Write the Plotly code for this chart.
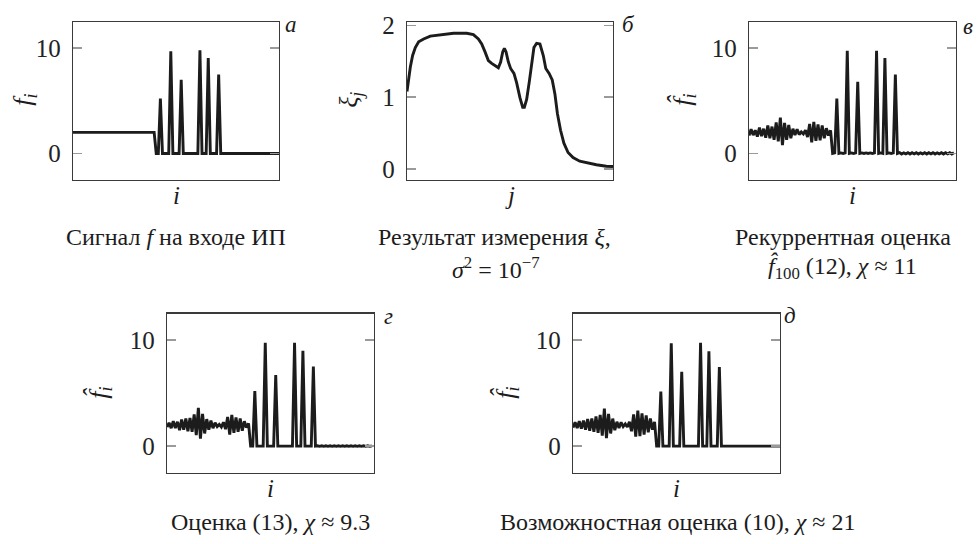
import plotly.graph_objects as go

W, H = 978, 544

# ---------------- data ----------------
i_idx = list(range(100))

f_input = [2, 2, 2, 2, 2, 2, 2, 2, 2, 2, 2, 2, 2, 2, 2, 2, 2, 2, 2, 2,
           2, 2, 2, 2, 2, 2, 2, 2, 2, 2, 2, 2, 2, 2, 2, 2, 2, 2, 2, 2,
           0, 0, 5.2, 0, 0, 0, 0, 9.7, 0, 0, 0, 0, 7.0, 0, 0, 0, 0, 0, 0, 0,
           0, 9.8, 0, 0, 0, 9.05, 0, 0, 0, 0, 7.5, 0, 0, 0, 0, 0, 0, 0, 0, 0,
           0, 0, 0, 0, 0, 0, 0, 0, 0, 0, 0, 0, 0, 0, 0, 0, 0, 0, 0, 0]

j_meas = [0, 0.8, 1.6, 2.7, 4.0, 5.6, 8.0, 11.2, 16.0, 22.4, 28.7, 31.9, 34.3, 35.9,
          37.5, 39.1, 40.7, 42.3, 43.9, 45.0, 46.0, 46.8, 47.6, 48.7, 49.8, 51.4,
          52.7, 54.3, 55.6, 56.4, 57.5, 58.8, 59.9, 61.0, 62.3, 63.9, 65.5, 66.7,
          68.3, 69.8, 71.1, 72.3, 73.8, 75.4, 77.4, 79.8, 83.0, 87.0, 91.0, 95.8, 99]
xi_meas = [1.08, 1.29, 1.42, 1.58, 1.69, 1.77, 1.81, 1.85, 1.87, 1.89, 1.89, 1.87,
           1.81, 1.74, 1.63, 1.51, 1.47, 1.44, 1.41, 1.49, 1.63, 1.68, 1.63, 1.49,
           1.40, 1.33, 1.20, 0.99, 0.86, 0.86, 0.97, 1.22, 1.49, 1.69, 1.75, 1.74,
           1.58, 1.40, 1.33, 1.24, 1.04, 0.77, 0.54, 0.36, 0.23, 0.16, 0.11, 0.08,
           0.06, 0.04, 0.036]

f_rec = [1.7, 2.3, 1.75, 2.2, 1.6, 2.45, 1.65, 2.35, 1.5, 2.65, 1.45, 2.55, 1.3, 2.95, 1.15, 3.4,
         0.8, 2.9, 1.3, 2.7, 1.45, 2.35, 1.75, 2.3, 1.8, 2.05, 1.85, 2.2, 1.55, 2.8, 1.05, 3.0,
         1.2, 2.75, 1.25, 2.65, 1.45, 2.4, 1.7, 2.2,
         0, 0.05, 5.2, 0, 0.05, 0, 0.05, 9.75, 0, 0.05, 0, 0.05, 6.8, 0, 0.05, 0, 0.05, 0,
         0.05, 0, 0.05, 9.75, 0, 0.05, 0, 9.05, 0, 0.05, 0, 0.05, 7.5, 0, 0.08, -0.05, 0.06,
         -0.04, 0.08, -0.05, 0.07, -0.04, 0.08, -0.05, 0.06, -0.04, 0.08, -0.05, 0.07, -0.04,
         0.08, -0.05, 0.06, -0.04, 0.08, -0.05, 0.07, -0.04, 0.08, -0.05, 0.06]

f_13 = [1.8, 2.2, 1.7, 2.35, 1.7, 2.3, 1.5, 2.5, 1.55, 2.6, 1.4, 2.65, 1.35, 3.0, 1.05, 3.6,
        0.7, 3.05, 1.2, 2.55, 1.55, 2.4, 1.7, 2.2, 1.85, 2.05, 1.8, 2.25, 1.6, 2.75, 1.1, 2.95,
        1.25, 2.7, 1.35, 2.6, 1.45, 2.35, 1.75, 2.15,
        0, 0, 5.2, 0, 0, 0, 0, 9.75, 0, 0, 0, 0, 6.7, 0, 0, 0, 0, 0, 0, 0,
        0, 9.75, 0, 0, 0, 9.0, 0, 0, 0, 0, 7.5, 0, 0.03, -0.02, 0.03, -0.02, 0.03, -0.02, 0.03, -0.02,
        0.03, -0.02, 0.03, -0.02, 0.03, -0.02, 0.03, -0.02, 0.03, -0.02, 0.03, -0.02, 0.03, -0.02,
        0.03, -0.02, 0.03, -0.02, 0.03]

f_10 = [1.75, 2.25, 1.7, 2.35, 1.65, 2.4, 1.55, 2.55, 1.45, 2.6, 1.35, 2.8, 1.25, 2.95, 1.0, 3.55,
        0.75, 3.05, 1.2, 2.6, 1.5, 2.3, 1.7, 2.25, 1.85, 2.1, 1.8, 2.3, 1.4, 3.0, 0.9, 3.35,
        0.95, 3.1, 1.1, 2.9, 1.3, 2.6, 1.55, 2.3,
        0, 0, 5.15, 0, 0, 0, 0, 9.7, 0, 0, 0, 0, 7.0, 0, 0, 0, 0, 0, 0, 0,
        0, 9.75, 0, 0, 0, 8.95, 0, 0, 0, 0, 7.45, 0, 0, 0, 0, 0, 0, 0, 0, 0,
        0, 0, 0, 0, 0, 0, 0, 0, 0, 0, 0, 0, 0, 0, 0, 0, 0, 0, 0, 0]

f_ticks = [0, 10]
xi_ticks = [0, 1, 2]

# ---------------- layout helpers ----------------
SERIF = "Liberation Serif, Times New Roman, Times, DejaVu Serif, serif"
LINE = dict(color="#1c1c1c", width=2.9)


def px_x(p):
    return p / W


def px_y(p):
    return 1 - p / H


# panel boxes in pixels: (left, right, top, bottom)
boxes = {
    "a": (73, 279, 12, 174),
    "b": (407, 613, 12, 174),
    "v": (749, 956, 12, 174),
    "g": (167, 374, 311, 474),
    "d": (573, 780, 311, 474),
}

fig = go.Figure()

panels = [
    ("a", i_idx, f_input, [-2.5, 12.5], f_ticks, [0, 99]),
    ("b", j_meas, xi_meas, [-0.15, 2.05], xi_ticks, [0, 99]),
    ("v", i_idx, f_rec, [-2.5, 12.5], f_ticks, [0, 99]),
    ("g", i_idx, f_13, [-2.5, 12.5], f_ticks, [0, 99]),
    ("d", i_idx, f_10, [-2.5, 12.5], f_ticks, [0, 99]),
]

layout_axes = {}
for n, (key, xs, ys, yr, yt, xr) in enumerate(panels, start=1):
    l, r, t, b = boxes[key]
    sfx = "" if n == 1 else str(n)
    fig.add_trace(go.Scatter(x=xs, y=ys, mode="lines", line=LINE,
                             xaxis="x" + sfx, yaxis="y" + sfx,
                             showlegend=False, hoverinfo="skip"))
    layout_axes["xaxis" + sfx] = dict(
        domain=[px_x(l), px_x(r)], range=xr, anchor="y" + sfx,
        showline=True, mirror=True, linecolor="#3a3a3a", linewidth=1.2,
        showticklabels=False, ticks="", showgrid=False, zeroline=False)
    layout_axes["yaxis" + sfx] = dict(
        domain=[px_y(b), px_y(t)], range=yr, anchor="x" + sfx,
        showline=True, mirror="ticks", linecolor="#3a3a3a", linewidth=1.2,
        ticks="inside", ticklen=9, tickwidth=1.4, tickcolor="#9a9a9a",
        tickvals=yt, ticktext=[str(v) for v in yt],
        tickfont=dict(family=SERIF, size=25, color="#222"),
        ticklabelstandoff=6,
        showgrid=False, zeroline=False)

fig.update_layout(**layout_axes)

ann = []


def text(x, y, s, size, angle=0, anchor="center"):
    ann.append(dict(x=px_x(x), y=px_y(y), xref="paper", yref="paper", text=s,
                    showarrow=False, textangle=angle, xanchor=anchor, yanchor="middle",
                    font=dict(family=SERIF, size=size, color="#1c1c1c")))


# y titles
text(24, 92, "<i>f<sub>i</sub></i>", 26, -90)
text(350, 92, "<i>ξ<sub>j</sub></i>", 26, -90)
text(684, 92, "<i>f̂<sub>i</sub></i>", 26, -90)
text(100, 392, "<i>f̂<sub>i</sub></i>", 26, -90)
text(507, 392, "<i>f̂<sub>i</sub></i>", 26, -90)

# x titles
text(176, 190, "<i>i</i>", 25)
text(510, 190, "<i>j</i>", 25)
text(852, 190, "<i>i</i>", 25)
text(270, 490, "<i>i</i>", 25)
text(676, 490, "<i>i</i>", 25)

# panel letters
text(291, 15, "<i>а</i>", 23)
text(628, 15, "<i>б</i>", 23)
text(968, 17, "<i>в</i>", 23)
text(388, 314, "<i>г</i>", 23)
text(790, 313, "<i>д</i>", 23)

# captions
CAP = 24
text(176, 233, "Сигнал <i>f</i> на входе ИП", CAP)
text(495, 233, "Результат измерения <i>ξ</i>,", CAP)
text(496, 264, "<i>σ</i><sup>2</sup> = 10<sup>−7</sup>", CAP)
text(843, 233, "Рекуррентная оценка", CAP)
text(842, 264, "<i>f̂</i><sub>100</sub> (12), <i>χ</i> ≈ 11", CAP)
text(270, 525, "Оценка (13), <i>χ</i> ≈ 9.3", CAP)
text(677, 525, "Возможностная оценка (10), <i>χ</i> ≈ 21", CAP)

fig.update_layout(
    width=W, height=H, autosize=False,
    margin=dict(l=0, r=0, t=0, b=0),
    paper_bgcolor="white", plot_bgcolor="white",
    annotations=ann,
)

fig.write_html(
    "out.html",
    config={"displayModeBar": False, "staticPlot": True},
    post_script="document.body.style.margin='0';"
                "document.documentElement.style.overflow='hidden';"
                "document.body.style.overflow='hidden';",
)
